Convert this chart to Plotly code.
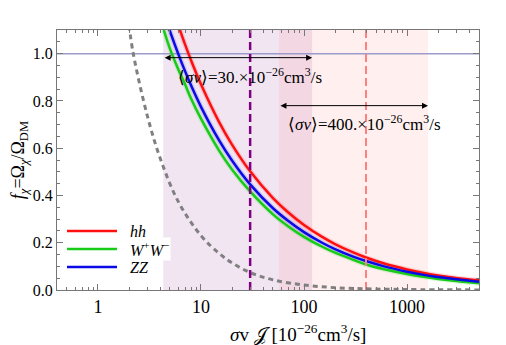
import numpy as np
import plotly.graph_objects as go

# ---- data ----
x_red = [6.2, 7, 8, 10, 15, 20, 30, 50, 70, 100, 150, 200, 300, 400, 600, 1000, 1500, 2000, 3000, 5000]
f_red = [1.104, 1.039, 0.972, 0.870, 0.710, 0.615, 0.502, 0.389, 0.329, 0.275, 0.2245, 0.1945, 0.159, 0.1375, 0.112, 0.087, 0.071, 0.0615, 0.051, 0.041]

x_blue = [4.9, 6, 7, 8, 10, 15, 20, 30, 50, 70, 100, 150, 200, 300, 400, 600, 1000, 1500, 2000, 3000, 5000]
f_blue = [1.105, 1.0, 0.926, 0.866, 0.775, 0.633, 0.548, 0.447, 0.346, 0.293, 0.245, 0.200, 0.173, 0.141, 0.1225, 0.100, 0.0775, 0.063, 0.055, 0.045, 0.035]

x_green = [4.35, 5, 6, 7, 8, 10, 15, 20, 30, 50, 70, 100, 150, 200, 300, 400, 600, 1000, 1500, 2000, 3000, 5000]
f_green = [1.10, 1.02, 0.935, 0.87, 0.81, 0.725, 0.59, 0.51, 0.417, 0.32, 0.27, 0.225, 0.183, 0.158, 0.128, 0.108, 0.088, 0.068, 0.055, 0.047, 0.038, 0.029]

x_gray = [2.0, 2.2, 3, 4, 6, 10, 15, 20, 30, 50, 100, 200, 400, 1000, 5000]
f_gray = [1.12, 1.0, 0.74, 0.56, 0.375, 0.23, 0.155, 0.115, 0.074, 0.043, 0.021, 0.010, 0.005, 0.002, 0.0004]

sv_values = [30, 400]
band_purple = [4.29, 120]
band_pink = [57.1, 1600]
arrow_y = [0.983, 0.78]
label_pos = [(29.9, 0.905), (389, 0.708)]
x_ticks = [1, 10, 100, 1000]
y_ticks = [0.0, 0.2, 0.4, 0.6, 0.8, 1.0]
XMIN, XMAX = 0.4, 5000
YMIN, YMAX = 0.0, 1.1

legend_names = ["<i>hh</i>", "<i>W</i><sup>+</sup><i>W</i><sup>−</sup>", "<i>ZZ</i>"]
legend_colors = ["#ff1010", "#17cc17", "#0a0ae6"]

FONT = "Liberation Serif"
# page body has an 8px margin: figure is shrunk so the page matches 506x345
W, H = 498, 337
L, R, T, B = 49, 27, 22, 55
PW, PH = W - L - R, H - T - B

fig = go.Figure()

# shaded bands
fig.add_trace(go.Scatter(x=[band_purple[0], band_purple[1], band_purple[1], band_purple[0]],
                         y=[YMIN, YMIN, YMAX, YMAX], fill="toself", mode="none",
                         fillcolor="rgba(128,0,128,0.10)", showlegend=False, hoverinfo="skip"))
fig.add_trace(go.Scatter(x=[band_pink[0], band_pink[1], band_pink[1], band_pink[0]],
                         y=[YMIN, YMIN, YMAX, YMAX], fill="toself", mode="none",
                         fillcolor="rgba(255,110,110,0.11)", showlegend=False, hoverinfo="skip"))

# horizontal line at 1
fig.add_trace(go.Scatter(x=[XMIN, XMAX], y=[1.0, 1.0], mode="lines",
                         line=dict(color="#9c9ccc", width=1.5), showlegend=False, hoverinfo="skip"))

# gray dashed
fig.add_trace(go.Scatter(x=x_gray, y=f_gray, mode="lines",
                         line=dict(color="#808080", width=3, dash="5px,4px", shape="spline"),
                         showlegend=False, hoverinfo="skip"))

series = [(x_red, f_red, legend_colors[0]),
          (x_green, f_green, legend_colors[1]),
          (x_blue, f_blue, legend_colors[2])]
for xs, ys, c in series:
    fig.add_trace(go.Scatter(x=xs, y=ys, mode="lines", line=dict(color=c, width=5, shape="spline"),
                             opacity=0.15, showlegend=False, hoverinfo="skip"))
for (xs, ys, c), nm in zip(series, legend_names):
    fig.add_trace(go.Scatter(x=xs, y=ys, mode="lines", name=nm, showlegend=False,
                             line=dict(color=c, width=2.5, shape="spline")))

# vertical dashed lines
fig.add_trace(go.Scatter(x=[sv_values[0]] * 2, y=[YMIN, YMAX], mode="lines",
                         line=dict(color="#800080", width=2.5, dash="8px,4px"), showlegend=False, hoverinfo="skip"))
fig.add_trace(go.Scatter(x=[sv_values[1]] * 2, y=[YMIN, YMAX], mode="lines",
                         line=dict(color="#ff8080", width=2, dash="8px,4px"), showlegend=False, hoverinfo="skip"))

# arrows
for (lo, hi), ya in zip([band_purple, band_pink], arrow_y):
    fig.add_annotation(x=np.log10(hi), y=ya, ax=np.log10(lo), ay=ya, axref="x", ayref="y",
                       xref="x", yref="y", text="", showarrow=True, arrowside="end+start",
                       arrowhead=2, startarrowhead=2, arrowsize=1.2, startarrowsize=1.2,
                       arrowwidth=1, arrowcolor="black")

for v, (lx, ly) in zip(sv_values, label_pos):
    fig.add_annotation(x=np.log10(lx), y=ly, xref="x", yref="y", showarrow=False,
                       text="⟨<i>σv</i>⟩=%d.×10<sup>−26</sup>cm<sup>3</sup>/s" % v,
                       font=dict(family=FONT, size=17, color="black"))

# custom legend (page coords -> paper)
def px_to_paper_x(px):
    return (px - 8 - L) / PW

def py_to_paper_y(py):
    return (T + PH - (py - 8)) / PH

legend_rows = [231, 249, 267]
for nm, c, ry in zip(legend_names, legend_colors, legend_rows):
    yy = py_to_paper_y(ry)
    fig.add_shape(type="line", xref="paper", yref="paper", x0=px_to_paper_x(67), x1=px_to_paper_x(117),
                  y0=yy, y1=yy, line=dict(color=c, width=2.5))
    fig.add_annotation(x=px_to_paper_x(128), y=yy, xref="paper", yref="paper", showarrow=False,
                       xanchor="left", yanchor="middle", text=nm, bgcolor="white", borderpad=1,
                       font=dict(family=FONT, size=16, color="black"))

# x axis title
fig.add_annotation(x=px_to_paper_x(298), y=py_to_paper_y(333), xref="paper", yref="paper", showarrow=False,
                   text="<i>σ</i>v 𝒥 [10<sup>−26</sup>cm<sup>3</sup>/s]",
                   font=dict(family=FONT, size=19, color="black"), yanchor="middle")

axis_common = dict(showgrid=False, zeroline=False, ticks="inside", mirror="allticks", showline=True,
                   linecolor="#777777", linewidth=1, tickcolor="#777777", ticklen=6)
fig.update_xaxes(type="log", range=[np.log10(XMIN), np.log10(XMAX)], tickvals=x_ticks,
                 ticktext=[str(t) for t in x_ticks],
                 tickfont=dict(family=FONT, size=18, color="black"),
                 minor=dict(ticks="inside", ticklen=3, tickcolor="#777777", dtick="D1", showgrid=False),
                 **axis_common)
fig.update_yaxes(range=[YMIN, YMAX], tickvals=y_ticks, tickformat=".1f",
                 tickfont=dict(family=FONT, size=16, color="black"),
                 minor=dict(ticks="inside", ticklen=3, tickcolor="#777777", dtick=0.05, showgrid=False),
                 title=dict(text="<i>f</i><sub><i>χ</i></sub>=Ω<sub><i>χ</i></sub>/Ω<sub>DM</sub>",
                            font=dict(family=FONT, size=18, color="black"), standoff=4),
                 automargin=False, **axis_common)

fig.update_layout(width=W, height=H, margin=dict(l=L, r=R, t=T, b=B, autoexpand=False),
                  plot_bgcolor="white", paper_bgcolor="white", showlegend=False)

fig.write_html("out.html")
